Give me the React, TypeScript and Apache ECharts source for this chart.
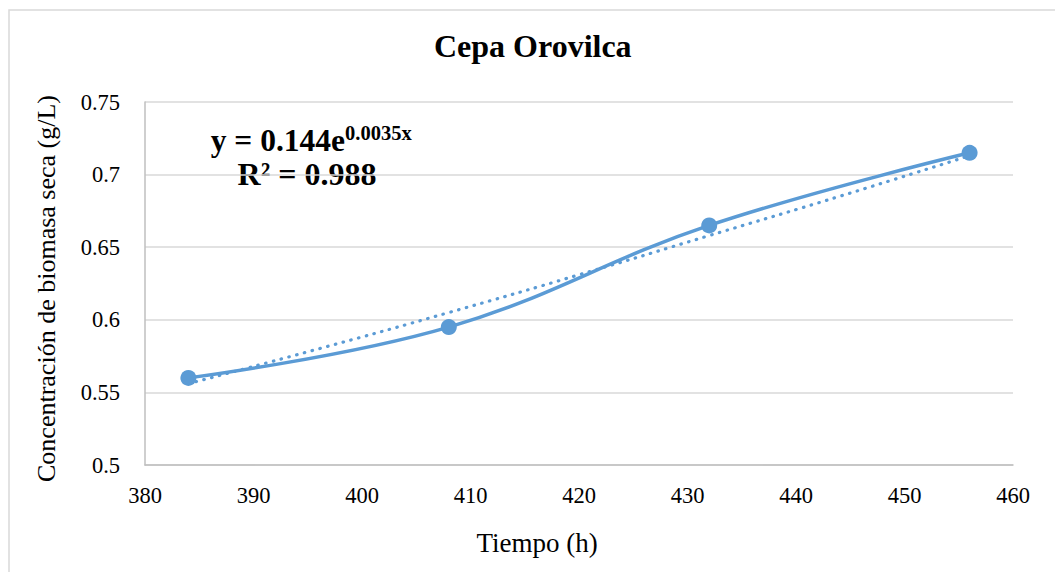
import React, { useEffect, useRef } from "react";
import * as echarts from "echarts";

const title = "Cepa Orovilca";
const xName = "Tiempo (h)";
const yName = "Concentración de biomasa seca (g/L)";
const timeH = [384, 408, 432, 456];
const biomass = [0.56, 0.595, 0.665, 0.715];
const trendX = [384, 396, 408, 420, 432, 444, 456];
const trendY = [0.556, 0.58, 0.605, 0.631, 0.658, 0.685, 0.713];
const eqMain = "y = 0.144e";
const eqSup = "0.0035x";
const r2Text = "R² = 0.988";

const FONT = "Liberation Serif";
const BLUE = "#5B9BD5";

export default function App() {
  const ref = useRef<HTMLDivElement>(null);
  useEffect(() => {
    if (!ref.current) return;
    const chart = echarts.init(ref.current, null, { renderer: "svg" });
    chart.setOption({
      animation: false,
      backgroundColor: "#ffffff",
      textStyle: { fontFamily: FONT },
      title: {
        text: title,
        left: 434,
        top: 30,
        padding: 0,
        textStyle: { fontFamily: FONT, fontSize: 32, fontWeight: "bold", color: "#000" },
      },
      grid: { left: 145, right: 42, top: 102, bottom: 107 },
      xAxis: {
        type: "value",
        min: 380,
        max: 460,
        interval: 10,
        name: xName,
        nameLocation: "middle",
        nameGap: 64,
        nameTextStyle: { fontFamily: FONT, fontSize: 27, color: "#000", padding: [0, 84, 0, 0] },
        axisLine: { show: true, lineStyle: { color: "#BFBFBF", width: 1.5 } },
        axisTick: { show: false },
        splitLine: { show: false },
        axisLabel: { fontFamily: FONT, fontSize: 22.5, color: "#000", margin: 19 },
      },
      yAxis: {
        type: "value",
        min: 0.5,
        max: 0.75,
        interval: 0.05,
        name: yName,
        nameLocation: "middle",
        nameGap: 86,
        nameTextStyle: { fontFamily: FONT, fontSize: 26, color: "#000", padding: [0, 10, 0, 0] },
        axisLine: { show: true, lineStyle: { color: "#BFBFBF", width: 1.5 } },
        axisTick: { show: false },
        splitLine: { show: true, lineStyle: { color: "#D9D9D9", width: 1.5 } },
        axisLabel: {
          fontFamily: FONT,
          fontSize: 22.5,
          color: "#000",
          margin: 25,
          formatter: (v: number) => String(Number(v.toFixed(2))),
        },
      },
      graphic: [
        {
          type: "rect",
          shape: { x: 9, y: 10, width: 1100, height: 600 },
          style: { fill: "none", stroke: "#D9D9D9", lineWidth: 1.5 },
          silent: true,
          z: -10,
        },
        {
          type: "text",
          x: 345,
          y: 156,
          style: {
            text: eqMain,
            fontFamily: FONT,
            fontSize: 31.5,
            fontWeight: "bold",
            fill: "#000",
            textAlign: "right",
            verticalAlign: "bottom",
          },
        },
        {
          type: "text",
          x: 345,
          y: 143,
          style: {
            text: eqSup,
            fontFamily: FONT,
            fontSize: 20.5,
            fontWeight: "bold",
            fill: "#000",
            textAlign: "left",
            verticalAlign: "bottom",
          },
        },
        {
          type: "text",
          x: 307,
          y: 190,
          style: {
            text: r2Text,
            fontFamily: FONT,
            fontSize: 32,
            fontWeight: "bold",
            fill: "#000",
            textAlign: "center",
            verticalAlign: "bottom",
          },
        },
      ],
      series: [
        {
          type: "line",
          data: trendX.map((x, i) => [x, trendY[i]]),
          smooth: true,
          showSymbol: false,
          symbol: "none",
          lineStyle: { color: BLUE, width: 3.2, type: [0.5, 7.5], cap: "round" },
          z: 1,
        },
        {
          type: "line",
          data: timeH.map((x, i) => [x, biomass[i]]),
          smooth: 0.4,
          symbol: "circle",
          symbolSize: 16,
          itemStyle: { color: BLUE },
          lineStyle: { color: BLUE, width: 3.5 },
          z: 2,
        },
      ],
    });
    return () => chart.dispose();
  }, []);
  return (
    <div
      ref={ref}
      style={{ position: "absolute", left: 0, top: 0, width: 1055, height: 572 }}
    />
  );
}
